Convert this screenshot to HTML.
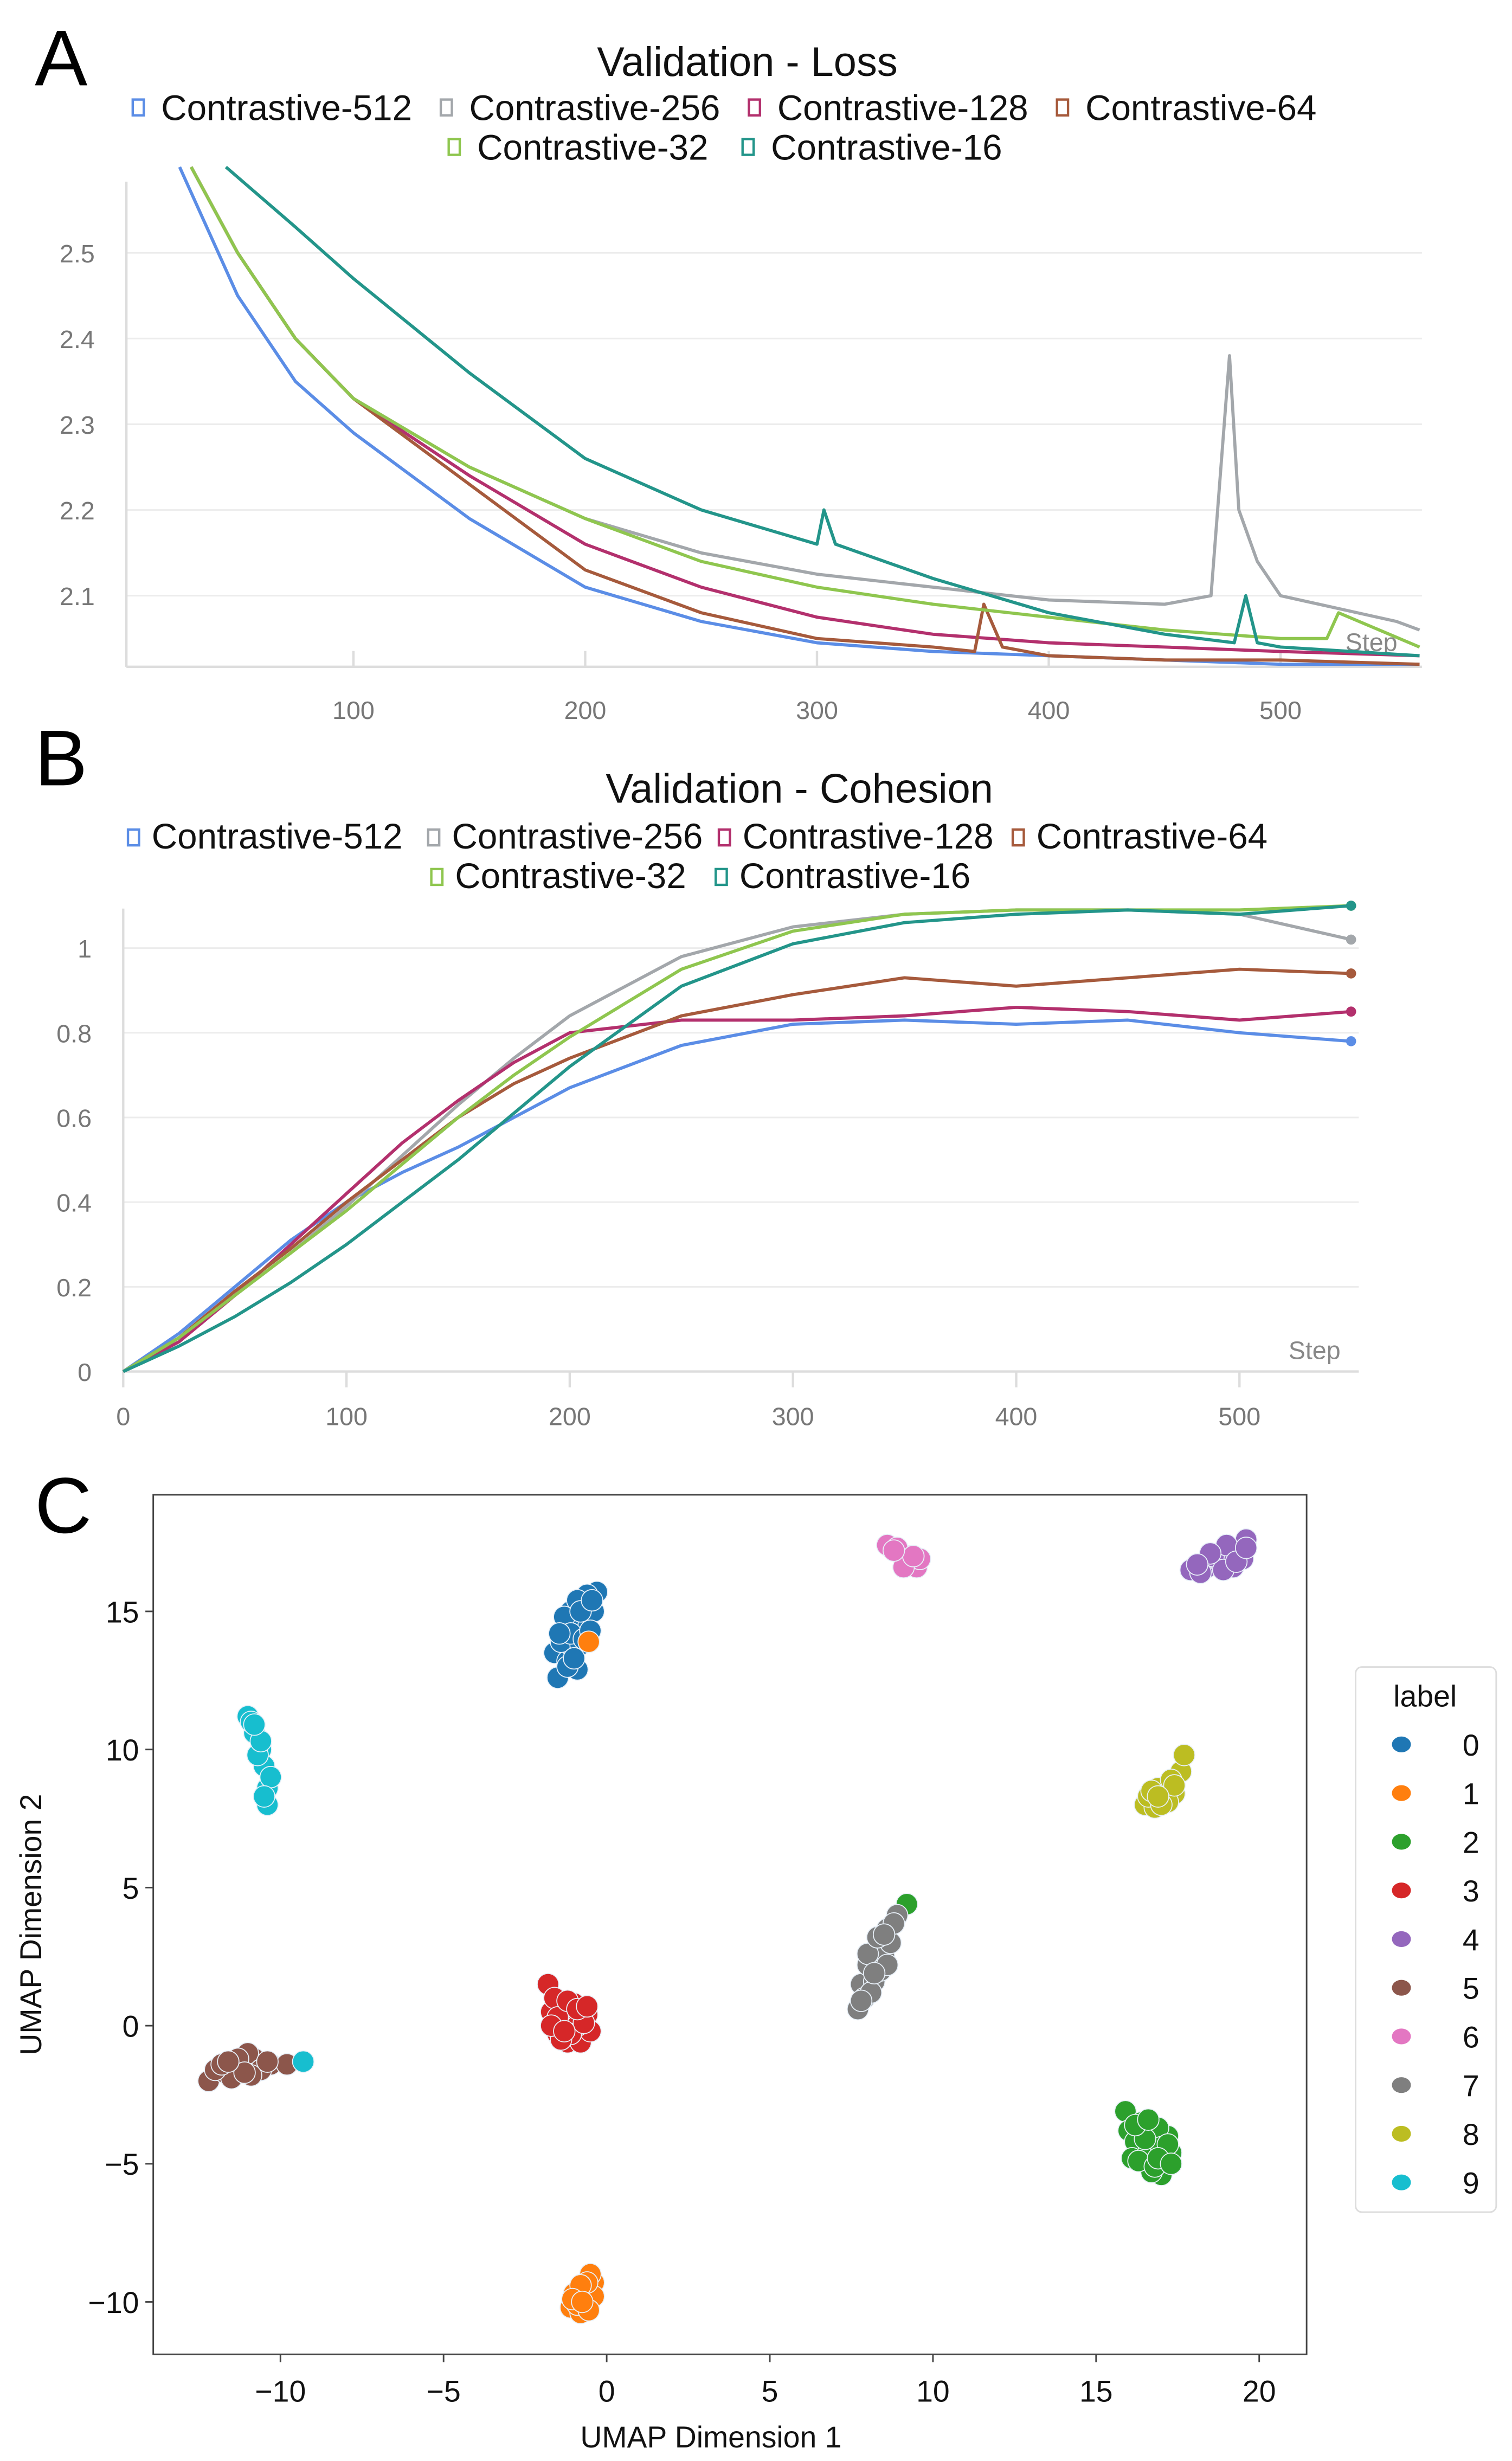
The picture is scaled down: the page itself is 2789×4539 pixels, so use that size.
<!DOCTYPE html>
<html><head><meta charset="utf-8"><style>
html,body{margin:0;padding:0;background:#fff;}
svg{display:block;font-family:"Liberation Sans",sans-serif;}
</style></head><body>
<svg id="fig" width="2789" height="4539" viewBox="0 0 957 1557.5" preserveAspectRatio="none" xmlns="http://www.w3.org/2000/svg">
<g id="A"></g>
<g id="B"></g>
<g id="C"></g>
</svg>
<script>
// ---------- data ----------
const seriesNames = ["Contrastive-512","Contrastive-256","Contrastive-128","Contrastive-64","Contrastive-32","Contrastive-16"];
const seriesColors = ["#5b8de6","#a3a7ab","#b3306d","#a65a3c","#8fc64f","#23958a"];
const lossSteps512 = [25,50,75,100,150,200,250,300,350,400,450,500,560];
const loss512 = [2.6,2.45,2.35,2.29,2.19,2.11,2.07,2.045,2.035,2.03,2.025,2.02,2.02];
const lossSteps256 = [30,50,75,100,150,200,250,300,350,400,450,470,478,482,490,500,550,560];
const loss256 = [2.6,2.5,2.4,2.33,2.25,2.19,2.15,2.125,2.11,2.095,2.09,2.1,2.38,2.2,2.14,2.1,2.07,2.06];
const lossSteps128 = [30,50,75,100,150,200,250,300,350,400,450,500,560];
const loss128 = [2.6,2.5,2.4,2.33,2.24,2.16,2.11,2.075,2.055,2.045,2.04,2.035,2.03];
const lossSteps64 = [30,50,75,100,150,200,250,300,350,368,372,380,400,450,500,560];
const loss64 = [2.6,2.5,2.4,2.33,2.23,2.13,2.08,2.05,2.04,2.035,2.09,2.04,2.03,2.025,2.025,2.02];
const lossSteps32 = [30,50,75,100,150,200,250,300,350,400,450,500,520,525,560];
const loss32 = [2.6,2.5,2.4,2.33,2.25,2.19,2.14,2.11,2.09,2.075,2.06,2.05,2.05,2.08,2.04];
const lossSteps16 = [45,75,100,150,200,250,300,303,308,350,400,450,480,485,490,500,560];
const loss16 = [2.6,2.53,2.47,2.36,2.26,2.2,2.16,2.2,2.16,2.12,2.08,2.055,2.045,2.1,2.045,2.04,2.03];
const lossStepsAll = [lossSteps512,lossSteps256,lossSteps128,lossSteps64,lossSteps32,lossSteps16];
const lossAll = [loss512,loss256,loss128,loss64,loss32,loss16];
const lossXTicks = [100,200,300,400,500];
const lossYTicks = [2.1,2.2,2.3,2.4,2.5];

const cohSteps = [0,25,50,75,100,125,150,175,200,250,300,350,400,450,500,550];
const coh512 = [0,0.09,0.2,0.31,0.4,0.47,0.53,0.6,0.67,0.77,0.82,0.83,0.82,0.83,0.8,0.78];
const coh256 = [0,0.08,0.18,0.28,0.39,0.51,0.63,0.74,0.84,0.98,1.05,1.08,1.09,1.09,1.08,1.02];
const coh128 = [0,0.07,0.18,0.3,0.42,0.54,0.64,0.73,0.8,0.83,0.83,0.84,0.86,0.85,0.83,0.85];
const coh64 = [0,0.08,0.19,0.29,0.4,0.5,0.6,0.68,0.74,0.84,0.89,0.93,0.91,0.93,0.95,0.94];
const coh32 = [0,0.08,0.18,0.28,0.38,0.49,0.6,0.7,0.79,0.95,1.04,1.08,1.09,1.09,1.09,1.1];
const coh16 = [0,0.06,0.13,0.21,0.3,0.4,0.5,0.61,0.72,0.91,1.01,1.06,1.08,1.09,1.08,1.1];
const cohAll = [coh512,coh256,coh128,coh64,coh32,coh16];
const cohXTicks = [0,100,200,300,400,500];
const cohYTicks = [0,0.2,0.4,0.6,0.8,1];

const umapLabels = ["0","1","2","3","4","5","6","7","8","9"];
const umapColors = ["#1f77b4","#ff7f0e","#2ca02c","#d62728","#9467bd","#8c564b","#e377c2","#7f7f7f","#bcbd22","#17becf"];
const umapX = [
 [-1.5,-1.6,-1.2,-1.0,-0.8,-0.5,-0.3,-1.3,-0.7,-1.0,-0.6,-1.1,-0.4,-1.4,-0.9,-1.2,-0.8,-0.6,-1.3,-1.1,-0.9,-0.7,-0.5,-1.2,-1.0,-0.8,-0.45,-1.45],
 [-1.1,-0.8,-0.6,-0.4,-0.5,-1.0,-0.7,-0.4,-0.9,-0.6,-0.8,-1.05,-0.55,-0.75,-0.55],
 [15.9,16.0,16.3,16.6,17.0,17.3,17.2,16.8,16.5,16.2,16.7,17.1,16.4,16.9,16.1,16.6,17.0,16.3,16.8,17.2,16.5,16.9,16.2,17.3,16.6,9.2],
 [-1.8,-1.7,-1.5,-1.2,-0.8,-0.5,-0.6,-1.0,-1.3,-0.9,-1.6,-1.1,-1.4,-0.7,-1.5,-1.2,-0.9,-1.7,-1.3,-0.6],
 [17.9,18.4,18.8,19.3,19.6,19.2,18.6,19.5,18.2,19.0,18.9,18.5,19.3,18.1,19.6],
 [-12.2,-11.7,-11.2,-10.8,-10.3,-9.8,-11.0,-11.5,-10.6,-12.0,-11.3,-10.9,-11.8,-11.1,-10.4,-11.6],
 [8.6,9.0,9.3,9.5,9.2,8.9,9.6,9.1,9.4,8.8],
 [7.7,7.8,8.0,8.3,8.6,8.9,8.2,8.5,8.7,7.9,8.4,8.8,8.1,8.0,8.3,8.6,7.8,8.2,8.5],
 [16.5,16.8,17.1,17.4,17.6,17.7,16.9,17.3,16.6,17.2,16.7,17.0,17.4,16.9],
 [-11.0,-10.8,-10.6,-10.5,-10.4,-10.4,-10.7,-10.3,-10.9,-10.6,-10.5,-10.8,-9.3]
];
const umapY = [
 [12.6,13.5,13.2,14.0,14.8,15.5,15.7,14.3,15.2,13.6,14.5,15.0,15.0,13.9,12.9,14.6,13.8,15.6,14.8,14.2,15.4,14.0,14.3,13.0,13.3,15.0,15.4,14.2],
 [-10.2,-10.4,-10.0,-9.3,-9.0,-9.7,-9.6,-9.8,-10.1,-9.3,-9.4,-9.9,-10.3,-10.0,13.9],
 [-3.1,-3.8,-4.5,-5.0,-5.4,-4.6,-4.0,-4.2,-3.8,-4.2,-5.3,-4.9,-3.5,-3.7,-4.8,-4.6,-4.4,-4.9,-5.1,-4.3,-4.1,-4.8,-3.6,-5.0,-3.4,4.4],
 [1.5,0.5,-0.3,-0.6,-0.6,-0.2,0.4,0.8,0.2,0.0,1.0,-0.3,-0.5,0.1,0.3,0.9,0.6,0.0,-0.2,0.7],
 [16.5,16.6,16.8,17.2,17.6,16.6,17.0,16.9,16.4,17.4,16.5,17.1,16.8,16.7,17.3],
 [-2.0,-1.7,-1.5,-1.2,-1.4,-1.4,-1.0,-1.9,-1.6,-1.6,-1.2,-1.8,-1.4,-1.7,-1.3,-1.3],
 [17.4,17.1,16.7,16.6,17.0,17.3,16.9,16.6,17.0,17.2],
 [0.6,1.5,2.2,2.8,3.5,4.0,1.6,2.5,3.0,1.0,2.0,3.7,1.2,2.6,3.2,2.2,0.9,1.9,3.3],
 [8.0,7.9,8.2,8.4,9.2,9.8,8.6,8.9,8.3,8.1,8.5,8.0,8.7,8.3],
 [11.2,10.6,10.0,9.4,8.6,8.0,9.8,9.0,11.0,10.3,8.3,10.9,-1.3]
];
const umapXTicks = [-10,-5,0,5,10,15,20];
const umapYTicks = [-10,-5,0,5,10,15];

// ---------- helpers ----------
const NS="http://www.w3.org/2000/svg";
function mk(parent,tag,attrs,text){const e=document.createElementNS(NS,tag);for(const k in attrs)e.setAttribute(k,attrs[k]);if(text!==undefined)e.textContent=text;parent.appendChild(e);return e;}
function ticksFmt(v){return (Math.round(v*10)/10).toString();}

// ---------- Panel A ----------
const A=document.getElementById('A');
const ax=s=>77+s*1.467, ay=v=>160+(2.5-v)*542.5;
let t=mk(A,'text',{x:22,y:54,'font-size':50},'A');

t=mk(A,'text',{x:473,y:48,'font-size':26,'text-anchor':'middle',fill:'#111'},'Validation - Loss');

const legA=[[84,76],[279,76],[474,76],[669,76],[284,101],[470,101]];
seriesNames.forEach((n,i)=>{const g=mk(A,'g',{});
 
 mk(g,'rect',{x:legA[i][0],y:legA[i][1]-13,width:7,height:10,fill:'none',stroke:seriesColors[i],'stroke-width':1.5});
 mk(g,'text',{x:legA[i][0]+18,y:legA[i][1],'font-size':22.5,fill:'#111'},n);});
lossYTicks.forEach(v=>{const l=mk(A,'line',{x1:80,x2:900,y1:ay(v),y2:ay(v),stroke:'#ececec','stroke-width':1});
 
 const tx=mk(A,'text',{x:60,y:ay(v)+6,'font-size':16,fill:'#777','text-anchor':'end'},ticksFmt(v));
 });
let l=mk(A,'line',{x1:80,x2:80,y1:115,y2:422,stroke:'#ddd','stroke-width':1.5});

l=mk(A,'line',{x1:80,x2:900,y1:422,y2:422,stroke:'#ddd','stroke-width':1.5});

lossXTicks.forEach(v=>{mk(A,'line',{x1:ax(v),x2:ax(v),y1:412,y2:422,stroke:'#ddd','stroke-width':1.5});
 const tx=mk(A,'text',{x:ax(v),y:455,'font-size':16,fill:'#777','text-anchor':'middle'},v);
 });
t=mk(A,'text',{x:868,y:412,'font-size':16,fill:'#888','text-anchor':'middle'},'Step');

const clipA=mk(A,'clipPath',{id:'clipA'});mk(clipA,'rect',{x:80,y:100,width:822,height:322});
lossAll.forEach((vals,i)=>{const pts=vals.map((v,j)=>ax(lossStepsAll[i][j]).toFixed(1)+','+ay(v).toFixed(1)).join(' ');
 const p=mk(A,'polyline',{points:pts,fill:'none',stroke:seriesColors[i],'stroke-width':2,'clip-path':'url(#clipA)','stroke-linejoin':'round'});
 });

// ---------- Panel B ----------
const B=document.getElementById('B');
const bx=s=>78+s*1.413, by=v=>868-v*268;
t=mk(B,'text',{x:22,y:497,'font-size':50},'B');

t=mk(B,'text',{x:506,y:508,'font-size':26,'text-anchor':'middle',fill:'#111'},'Validation - Cohesion');

const legB=[[78,537],[268,537],[452,537],[638,537],[270,562],[450,562]];
seriesNames.forEach((n,i)=>{const g=mk(B,'g',{});
 
 mk(g,'rect',{x:legB[i][0]+3,y:legB[i][1]-12,width:7,height:10,fill:'none',stroke:seriesColors[i],'stroke-width':1.5});
 mk(g,'text',{x:legB[i][0]+18,y:legB[i][1],'font-size':22.5,fill:'#111'},n);});
cohYTicks.forEach(v=>{mk(B,'line',{x1:78,x2:860,y1:by(v),y2:by(v),stroke:'#ececec','stroke-width':1});
 const tx=mk(B,'text',{x:58,y:by(v)+6,'font-size':16,fill:'#777','text-anchor':'end'},ticksFmt(v));
 });
l=mk(B,'line',{x1:78,x2:78,y1:575,y2:870,stroke:'#ddd','stroke-width':1.5});

l=mk(B,'line',{x1:78,x2:860,y1:868,y2:868,stroke:'#ddd','stroke-width':1.5});

cohXTicks.forEach(v=>{mk(B,'line',{x1:bx(v),x2:bx(v),y1:868,y2:878,stroke:'#ddd','stroke-width':1.5});
 const tx=mk(B,'text',{x:bx(v),y:902,'font-size':16,fill:'#777','text-anchor':'middle'},v);
 });
t=mk(B,'text',{x:832,y:860,'font-size':16,fill:'#888','text-anchor':'middle'},'Step');

cohAll.forEach((vals,i)=>{const pts=vals.map((v,j)=>bx(cohSteps[j]).toFixed(1)+','+by(v).toFixed(1)).join(' ');
 const p=mk(B,'polyline',{points:pts,fill:'none',stroke:seriesColors[i],'stroke-width':2,'stroke-linejoin':'round'});
 
 const lastX=bx(cohSteps[cohSteps.length-1]), lastV=vals[vals.length-1];
 const d=mk(B,'circle',{cx:Math.min(lastX,859),cy:by(lastV),r:3.2,fill:seriesColors[i]});
 });

// ---------- Panel C ----------
const C=document.getElementById('C');
const cx=v=>384+v*20.65, cy=v=>1282-v*17.48;
t=mk(C,'text',{x:22,y:970,'font-size':50},'C');

let r=mk(C,'rect',{x:97,y:946,width:730,height:544,fill:'none',stroke:'#444','stroke-width':1});

umapXTicks.forEach(v=>{mk(C,'line',{x1:cx(v),x2:cx(v),y1:1490,y2:1495,stroke:'#444'});
 const tx=mk(C,'text',{x:cx(v),y:1520,'font-size':19,fill:'#111','text-anchor':'middle'},v<0?'\u2212'+(-v):v);
 });
umapYTicks.forEach(v=>{mk(C,'line',{x1:92,x2:97,y1:cy(v),y2:cy(v),stroke:'#444'});
 const tx=mk(C,'text',{x:88,y:cy(v)+7,'font-size':19,fill:'#111','text-anchor':'end'},v<0?'\u2212'+(-v):v);
 });
t=mk(C,'text',{x:450,y:1549,'font-size':19,fill:'#111','text-anchor':'middle'},'UMAP Dimension  1');

t=mk(C,'text',{x:0,y:0,'font-size':19,fill:'#111','text-anchor':'middle',transform:'translate(26,1218) rotate(-90)'},'UMAP Dimension  2');

umapX.forEach((xs,k)=>{xs.forEach((xv,j)=>{
 const c=mk(C,'circle',{cx:cx(xv),cy:cy(umapY[k][j]),r:6.8,fill:umapColors[k],stroke:'#e8f0f8','stroke-width':0.6});
 });});
const lg=mk(C,'g',{});

mk(lg,'rect',{x:858,y:1055,width:89,height:345,rx:4,fill:'#fff',stroke:'#ddd','stroke-width':1});
mk(lg,'text',{x:902,y:1080,'font-size':19,fill:'#111','text-anchor':'middle'},'label');
umapLabels.forEach((lab,i)=>{const g=mk(lg,'g',{});
 
 const yy=1104+i*30.8;
 mk(g,'ellipse',{cx:887,cy:yy,rx:6,ry:5,fill:umapColors[i]});
 mk(g,'text',{x:931,y:yy+7,'font-size':19,fill:'#111','text-anchor':'middle'},lab);});
</script>
</body></html>
